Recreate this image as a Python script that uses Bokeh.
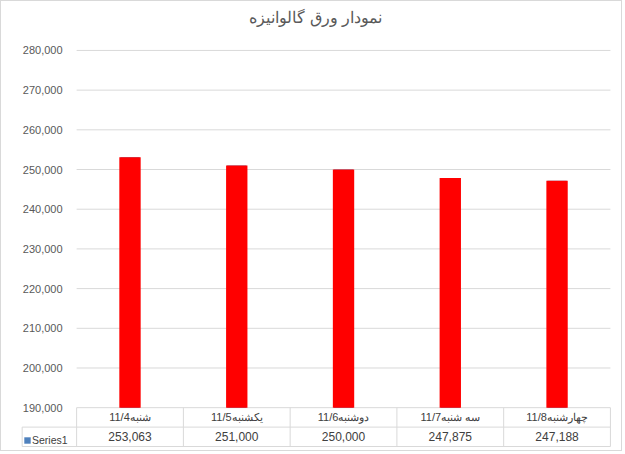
from bokeh.plotting import figure
from bokeh.models import (Range1d, FixedTicker, NumeralTickFormatter,
                          ColumnDataSource, Legend, LegendItem)
from bokeh.core.properties import value
from bokeh.embed import file_html
from bokeh.resources import INLINE

# ---------------- data ----------------
chart_title = "نمودار ورق گالوانیزه"
categories = ["شنبه11/4", "یکشنبه11/5", "دوشنبه11/6", "سه شنبه11/7", "چهارشنبه11/8"]
values = [253063, 251000, 250000, 247875, 247188]
series_name = "Series1"
y_ticks = [190000, 200000, 210000, 220000, 230000, 240000, 250000, 260000, 270000, 280000]

# ---------------- layout constants ----------------
Y_MIN = y_ticks[0]
Y_MAX = y_ticks[-1]
ROW = 4890          # height of one data-table row in y units
PAD = 250           # slack below the table
TOP_PAD = 2000      # room above the top tick so its label is not clipped
LEG = 0.51          # width of the legend column of the data table (category units)
X_LO = -0.535       # left end of the x range (leaves room for the legend column)
EPS = 0.01
FONT = "Liberation Sans"
GRID = "#d9d9d9"
TXT = "#404040"

n = len(categories)
xs = [i + 0.5 for i in range(n)]

p = figure(
    width=622, height=451,
    x_range=Range1d(X_LO, n + EPS),
    y_range=Range1d(Y_MIN - 2 * ROW - PAD, Y_MAX + TOP_PAD),
    x_axis_location=None,
    output_backend="svg", toolbar_location=None,
    min_border_left=18, min_border_right=12, min_border_top=39, min_border_bottom=5,
    background_fill_color="white", border_fill_color="white",
    outline_line_color=None,
    styles={"border": "1px solid #d9d9d9"},
)

# title
p.title.text = chart_title
p.title.align = "center"
p.title.offset = -8
p.title.text_font = FONT
p.title.text_font_size = "16px"
p.title.text_font_style = "normal"
p.title.text_color = "#595959"
p.title.padding = dict(left=0, right=0, top=0, bottom=12)

# y axis, drawn at the start of the category area
p.yaxis.fixed_location = 0
p.yaxis.ticker = FixedTicker(ticks=y_ticks)
p.yaxis.formatter = NumeralTickFormatter(format="0,0")
p.yaxis.axis_line_color = None
p.yaxis.major_tick_line_color = None
p.yaxis.minor_tick_line_color = None
p.yaxis.major_label_text_font = FONT
p.yaxis.major_label_text_font_size = "11px"
p.yaxis.major_label_text_color = "#595959"
p.yaxis.major_label_standoff = 8

# horizontal gridlines over the category area only
p.ygrid.visible = False
p.xgrid.visible = False
p.segment(x0=[0] * len(y_ticks), x1=[n] * len(y_ticks), y0=y_ticks, y1=y_ticks,
          line_color=GRID, line_width=1)

# bars: the series in its own colour (legend key), every point overridden in red
src = ColumnDataSource(dict(x=xs, cat=categories, val=values,
                            lab=["{:,}".format(v) for v in values]))
series = p.vbar(x="x", top="val", bottom=Y_MIN, width=0.18, source=src,
                fill_color="#4f81bd", line_color=None)
p.vbar(x="x", top="val", bottom=Y_MIN, width=0.2, source=src,
       fill_color="#ff0000", line_color=None)

# data table below the plot
row_lines_y = [Y_MIN - ROW, Y_MIN - 2 * ROW]
p.segment(x0=[-LEG] * 2, x1=[n] * 2, y0=row_lines_y, y1=row_lines_y,
          line_color=GRID, line_width=1)
bounds = list(range(n + 1))
p.segment(x0=bounds, x1=bounds, y0=[Y_MIN - 2 * ROW] * len(bounds),
          y1=[Y_MIN] * len(bounds), line_color=GRID, line_width=1)
p.segment(x0=[-LEG], x1=[-LEG], y0=[Y_MIN - 2 * ROW], y1=[Y_MIN - ROW],
          line_color=GRID, line_width=1)

p.text(x="x", y=Y_MIN - 0.5 * ROW, text="cat", source=src,
       text_font=value(FONT), text_font_size="11px", text_color=TXT,
       text_align="center", text_baseline="middle")
p.text(x="x", y=Y_MIN - 1.5 * ROW, text="lab", source=src,
       text_font=value(FONT), text_font_size="12px", text_color=TXT,
       text_align="center", text_baseline="middle")

# legend key inside the table's first column
legend = Legend(items=[LegendItem(label=series_name, renderers=[series])],
                location=(4, 1), orientation="vertical",
                border_line_color=None,
                background_fill_alpha=0,
                padding=3, spacing=0, margin=0,
                glyph_width=8, glyph_height=8, label_standoff=1,
                label_height=13, label_text_font=FONT,
                label_text_font_size="10.5px", label_text_color=TXT)
p.add_layout(legend)

open("out.html", "w").write(file_html(p, INLINE))
